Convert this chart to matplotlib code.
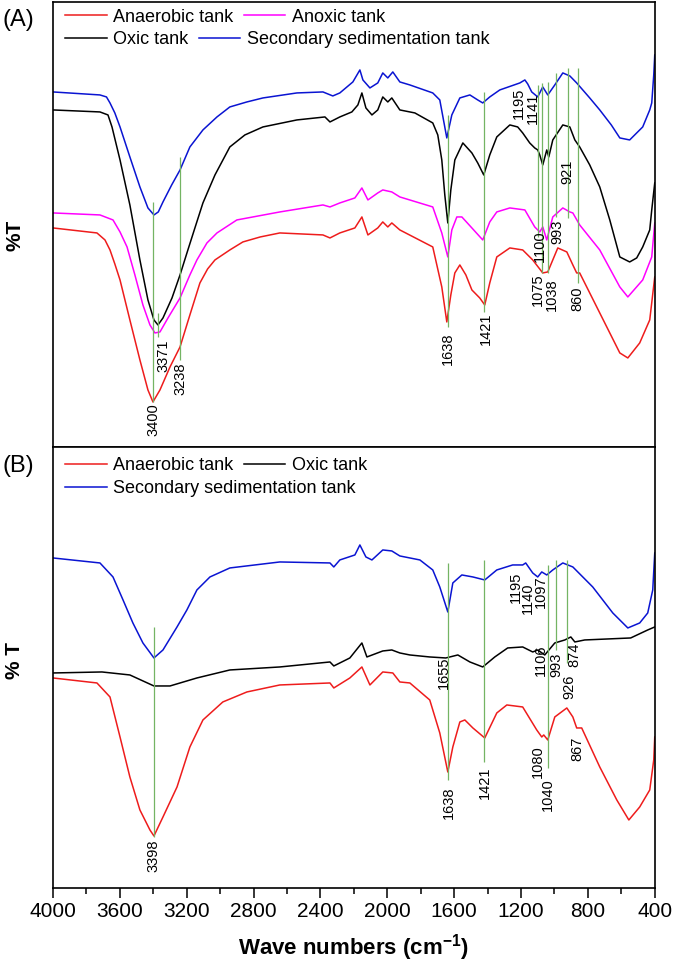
import matplotlib; matplotlib.use("Agg")
import matplotlib.pyplot as plt
from matplotlib.ticker import MultipleLocator

plt.rcParams.update({"font.family": ["Liberation Sans", "DejaVu Sans"], "font.size": 13})
RED = "#ee1c1c"; MAG = "#ff00ff"; BLUE = "#0a14d2"; BLK = "#000000"; GRN = "#74b463"

# ---------- panel A spectra (wavenumber, %T offset a.u.) ----------
a_blue_wn = [4000, 3719, 3680, 3659, 3630, 3599, 3540, 3480, 3432, 3396, 3370, 3342, 3290, 3240, 3181, 3103,
             3019, 2942, 2840, 2744, 2541, 2385, 2326, 2284, 2206, 2164, 2146, 2104, 2057, 2027, 1997, 1967,
             1925, 1865, 1728, 1686, 1644, 1614, 1566, 1506, 1459, 1429, 1387, 1327, 1207, 1177, 1160, 1136,
             1100, 1070, 1040, 998, 950, 908, 867, 789, 729, 660, 609, 550, 472, 430, 418, 406, 400]
a_blue = [355, 352, 350, 344, 334, 320, 290, 260, 239, 232, 235, 245, 262, 277, 300, 317,
          330, 340, 345, 349, 354, 355, 351, 354, 365, 377, 367, 359, 364, 374, 369, 375,
          365, 362, 354, 347, 309, 332, 349, 352, 347, 344, 350, 357, 364, 367, 363, 355,
          350, 360, 352, 362, 374, 371, 364, 349, 337, 322, 309, 307, 320, 337, 344, 372, 392]

a_blk_wn = [4000, 3719, 3671, 3647, 3599, 3540, 3480, 3432, 3396, 3372, 3342, 3288, 3240, 3193, 3151, 3103,
            3031, 2942, 2852, 2744, 2541, 2373, 2343, 2284, 2212, 2176, 2152, 2128, 2092, 2057, 2027, 1997,
            1973, 1925, 1835, 1728, 1698, 1674, 1656, 1638, 1620, 1596, 1548, 1494, 1459, 1423, 1387, 1345,
            1267, 1220, 1190, 1148, 1118, 1100, 1088, 1070, 1046, 1034, 1010, 950, 908, 878, 849, 789,
            729, 669, 609, 550, 508, 472, 430, 418, 400]
a_blk = [337, 335, 332, 320, 287, 242, 187, 147, 127, 122, 129, 149, 172, 197, 219, 244,
         272, 300, 312, 320, 327, 330, 325, 330, 335, 342, 354, 339, 332, 337, 350, 345,
         349, 337, 334, 324, 312, 287, 252, 224, 257, 287, 304, 294, 284, 272, 292, 310,
         322, 320, 314, 304, 299, 297, 292, 282, 297, 290, 307, 322, 320, 307, 300, 282,
         260, 227, 190, 185, 189, 200, 217, 237, 264]

a_mag_wn = [4000, 3719, 3641, 3599, 3557, 3510, 3462, 3420, 3390, 3360, 3312, 3240, 3181, 3139, 3079, 3019,
            2900, 2643, 2385, 2343, 2284, 2194, 2152, 2116, 2057, 2027, 1973, 1925, 1728, 1674, 1638, 1614,
            1584, 1554, 1494, 1429, 1387, 1345, 1267, 1177, 1118, 1088, 1070, 1046, 1010, 950, 908, 890,
            849, 729, 609, 561, 472, 418, 400]
a_mag = [234, 232, 227, 215, 200, 172, 142, 122, 114, 115, 129, 149, 172, 187, 204, 214,
         227, 235, 242, 240, 244, 249, 259, 247, 254, 257, 255, 250, 240, 214, 190, 217,
         230, 230, 219, 207, 225, 235, 239, 237, 220, 215, 220, 207, 230, 239, 235, 234,
         222, 197, 160, 150, 167, 190, 224]

a_red_wn = [4000, 3737, 3689, 3659, 3630, 3599, 3540, 3480, 3432, 3402, 3360, 3300, 3240, 3181, 3121, 3075,
            3031, 2942, 2864, 2760, 2643, 2385, 2343, 2284, 2194, 2152, 2116, 2057, 2027, 1997, 1973, 1925,
            1728, 1674, 1644, 1620, 1596, 1566, 1530, 1494, 1447, 1417, 1387, 1345, 1267, 1190, 1130, 1070,
            1040, 1010, 980, 926, 890, 867, 849, 729, 609, 561, 490, 430, 400]
a_red = [219, 214, 207, 197, 183, 167, 127, 87, 57, 45, 57, 80, 100, 132, 164, 178,
         187, 197, 205, 210, 214, 212, 209, 214, 219, 230, 212, 219, 225, 220, 224, 217,
         200, 160, 125, 152, 174, 182, 172, 157, 149, 142, 164, 190, 199, 197, 187, 174,
         175, 187, 199, 195, 182, 174, 174, 134, 94, 89, 104, 127, 170]

# ---------- panel B spectra ----------
b_blue_wn = [4000, 3719, 3641, 3581, 3522, 3462, 3396, 3342, 3258, 3199, 3139, 3061, 2942, 2643, 2343, 2320,
             2284, 2194, 2164, 2128, 2092, 2027, 1973, 1925, 1805, 1728, 1686, 1638, 1608, 1554, 1488, 1417,
             1345, 1250, 1190, 1172, 1130, 1100, 1076, 1046, 1010, 950, 890, 771, 651, 561, 490, 442,
             412, 400]
b_blue = [330, 325, 311, 288, 265, 245, 230, 238, 261, 278, 298, 311, 320, 326, 325, 321,
          328, 333, 343, 331, 328, 338, 337, 332, 328, 318, 301, 276, 305, 313, 311, 308,
          318, 323, 323, 325, 315, 311, 316, 313, 318, 325, 321, 301, 275, 260, 265, 275,
          298, 335]

b_blk_wn = [4000, 3707, 3540, 3396, 3300, 3139, 2942, 2643, 2343, 2320, 2224, 2152, 2122, 2027, 1973, 1925,
            1865, 1746, 1650, 1578, 1506, 1429, 1357, 1280, 1190, 1130, 1100, 1058, 998, 938, 902, 878,
            819, 544, 442, 400]
b_blk = [215, 216, 213, 202, 202, 210, 218, 221, 226, 222, 230, 245, 231, 237, 238, 235,
         233, 231, 230, 233, 226, 221, 231, 240, 241, 236, 238, 233, 245, 248, 251, 246,
         248, 250, 258, 261]

b_red_wn = [4000, 3737, 3659, 3599, 3540, 3480, 3420, 3396, 3342, 3258, 3181, 3103, 2984, 2840, 2643, 2343,
            2320, 2224, 2152, 2104, 2027, 1967, 1925, 1865, 1746, 1686, 1638, 1608, 1566, 1536, 1488, 1417,
            1345, 1285, 1190, 1106, 1076, 1064, 1040, 998, 926, 890, 867, 837, 729, 627, 555, 490,
            430, 406, 400]
b_red = [210, 205, 191, 151, 111, 78, 58, 52, 71, 101, 141, 168, 186, 196, 203, 205,
         200, 210, 221, 203, 216, 215, 206, 205, 188, 155, 116, 141, 166, 168, 160, 150,
         175, 183, 181, 158, 151, 153, 148, 171, 180, 171, 160, 160, 121, 88, 68, 81,
         98, 128, 151]

# ---------- peak markers ----------
a_line_wn = [3400, 3371, 3238, 1638, 1421, 1100, 1075, 1038, 993, 921, 860]
a_line_lo = [45, 110, 87, 120, 135, 210, 174, 174, 230, 229, 164]
a_line_hi = [245, 134, 290, 332, 355, 362, 364, 365, 374, 379, 379]
a_lab = ["3400", "3371", "3238", "1638", "1421", "1195", "1141", "1100", "1075", "1038", "993", "921", "860"]
a_lab_wn = [3400, 3342, 3235, 1638, 1413, 1210, 1128, 1088, 1100, 1016, 980, 920, 860]
a_lab_top = [44, 107, 84, 114, 134, 359, 354, 217, 174, 169, 227, 287, 160]

b_line_wn = [3398, 1638, 1421, 1040, 993, 926]
b_line_lo = [51, 108, 126, 120, 238, 225]
b_line_hi = [261, 325, 328, 323, 328, 328]
b_lab = ["3398", "1655", "1638", "1421", "1195", "1140", "1097", "1106", "993", "926", "874", "1080", "1040", "867"]
b_lab_wn = [3398, 1662, 1632, 1417, 1232, 1158, 1080, 1082, 986, 908, 878, 1100, 1040, 860]
b_lab_top = [48, 231, 101, 121, 316, 305, 313, 243, 235, 213, 245, 143, 110, 151]

fig = plt.figure(figsize=(6.75, 9.71), dpi=100)
axA = fig.add_axes([0.0785, 0.5397, 0.8915, 0.4583])
axB = fig.add_axes([0.0785, 0.0855, 0.8915, 0.4542], sharex=axA)

lw = 1.1
rA, = axA.plot(a_red_wn, a_red, color=RED, lw=lw, label="Anaerobic tank")
mA, = axA.plot(a_mag_wn, a_mag, color=MAG, lw=lw, label="Anoxic tank")
kA, = axA.plot(a_blk_wn, a_blk, color=BLK, lw=lw, label="Oxic tank")
bA, = axA.plot(a_blue_wn, a_blue, color=BLUE, lw=lw, label="Secondary sedimentation tank")
axA.vlines(a_line_wn, a_line_lo, a_line_hi, color=GRN, lw=0.9)
for t, x, y in zip(a_lab, a_lab_wn, a_lab_top):
    axA.text(x, y, t, rotation=90, ha="center", va="top", fontsize=10.5)

rB, = axB.plot(b_red_wn, b_red, color=RED, lw=lw, label="Anaerobic tank")
kB, = axB.plot(b_blk_wn, b_blk, color=BLK, lw=lw, label="Oxic tank")
bB, = axB.plot(b_blue_wn, b_blue, color=BLUE, lw=lw, label="Secondary sedimentation tank")
axB.vlines(b_line_wn, b_line_lo, b_line_hi, color=GRN, lw=0.9)
for t, x, y in zip(b_lab, b_lab_wn, b_lab_top):
    axB.text(x, y, t, rotation=90, ha="center", va="top", fontsize=10.5)

axA.set_ylim(0, 445); axB.set_ylim(0, 441)
axA.set_xlim(4000, 400)
for ax in (axA, axB):
    ax.set_yticks([])
    for s in ax.spines.values():
        s.set_linewidth(1.2)
axA.tick_params(axis="x", which="both", bottom=False, labelbottom=False)
axB.xaxis.set_major_locator(MultipleLocator(400))
axB.xaxis.set_minor_locator(MultipleLocator(200))
axB.tick_params(axis="x", which="major", direction="out", length=7, width=1.1, labelsize=15, pad=3)
axB.tick_params(axis="x", which="minor", direction="out", length=4, width=1.1)
axB.set_xlabel("Wave numbers (cm$^{\\mathregular{-1}}$)", fontsize=16, fontweight="bold", labelpad=8)

leg_kw = dict(frameon=False, ncol=2, loc="center left", borderpad=0, borderaxespad=0,
              handlelength=2.3, handletextpad=0.35, columnspacing=0.6, fontsize=13)
l1 = axA.legend(handles=[rA, mA], bbox_to_anchor=(0.02, 0.966), **leg_kw); axA.add_artist(l1)
axA.legend(handles=[kA, bA], bbox_to_anchor=(0.02, 0.915), **leg_kw)
l3 = axB.legend(handles=[rB, kB], bbox_to_anchor=(0.02, 0.957), **leg_kw); axB.add_artist(l3)
axB.legend(handles=[bB], bbox_to_anchor=(0.02, 0.905), **leg_kw)

fig.text(0.004, 1 - 20 / 971, "(A)", fontsize=17, va="center")
fig.text(0.004, 1 - 466 / 971, "(B)", fontsize=17, va="center")
fig.text(15 / 675, 1 - 235 / 971, "%T", rotation=90, fontsize=15, fontweight="bold", ha="center", va="center")
fig.text(15 / 675, 1 - 660 / 971, "% T", rotation=90, fontsize=15, fontweight="bold", ha="center", va="center")

fig.savefig("out.png", dpi=100)
